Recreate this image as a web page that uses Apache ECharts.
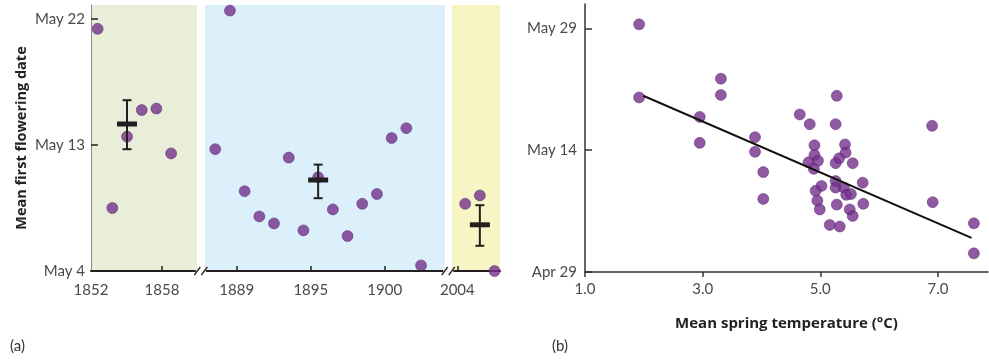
<!DOCTYPE html>
<html><head><meta charset="utf-8">
<script src="https://cdn.jsdelivr.net/npm/echarts@6/dist/echarts.min.js"></script>
<style>html,body{margin:0;padding:0;background:#fff}#c{width:989px;height:362px}</style>
</head><body><div id="c"></div><script>
// ---------- Panel (a): x = plotting slot (one per sampled year), y = days after May 4
const greenX = [0, 1, 2, 3, 4, 5];
const greenY = [17.3, 4.5, 9.6, 11.5, 11.6, 8.4];
const blueX = [8, 9, 10, 11, 12, 13, 14, 15, 16, 17, 18, 19, 20, 21, 22];
const blueY = [8.7, 18.6, 5.7, 3.9, 3.4, 8.1, 2.9, 6.7, 4.4, 2.5, 4.8, 5.5, 9.5, 10.2, 0.4];
const yellowX = [25, 26, 27];
const yellowY = [4.8, 5.4, 0.0];
// [x, mean, low, high]
const meansA = [[2, 10.5, 8.7, 12.2], [15, 6.5, 5.2, 7.6], [26, 3.3, 1.8, 4.7]];
const eraSpans = [[-0.45, 6.76], [7.31, 23.63], [24.11, 27.37]];
const breaksA = [7.02, 23.85];
const xTicksA = [-0.45, 4.38, 9.46, 14.5, 19.53, 24.47];
const xTickLabelsA = ['1852', '1858', '1889', '1895', '1900', '2004'];
const yTicksA = [0, 9, 18];
const yTickLabelsA = ['May 4', 'May 13', 'May 22'];

// ---------- Panel (b): x = mean spring temperature (°C), y = days after Apr 29
const tempB = [1.92, 1.92, 2.95, 2.95, 3.31, 3.31, 3.89, 3.89, 4.03, 4.03, 4.65, 4.82, 4.90, 4.90, 4.80,
  4.96, 4.89, 5.02, 4.92, 4.95, 4.99, 5.28, 5.26, 5.42, 5.43, 5.32, 5.26, 5.55, 5.26, 5.26, 5.40, 5.44,
  5.52, 5.72, 5.28, 5.50, 5.55, 5.73, 5.16, 5.33, 6.90, 6.91, 7.61, 7.61];
const dateB = [30.5, 21.5, 19.1, 15.9, 23.8, 21.8, 16.6, 14.8, 12.3, 9.0, 19.4, 18.2, 15.6, 14.4, 13.5,
  13.7, 12.7, 10.6, 10.0, 8.8, 7.7, 21.7, 18.2, 15.7, 14.7, 14.0, 13.4, 13.4, 11.2, 10.4, 10.4, 9.5,
  9.6, 11.0, 8.3, 7.7, 6.9, 8.4, 5.8, 5.6, 18.0, 8.6, 6.0, 2.3];
const fitB = [[1.99, 21.7], [7.57, 4.2]];
const xTicksB = [1, 3, 5, 7];
const xTickLabelsB = ['1.0', '3.0', '5.0', '7.0'];
const yTicksB = [0, 15, 30];
const yTickLabelsB = ['Apr 29', 'May 14', 'May 29'];

const FONT = 'Lato';
const TFONT = 'Open Sans';
const DOT = '#74318c';
const INK = '#231f20';
const LBL = '#4a4a4a';
const eraColors = ['#e8eed7', '#dbf0fb', '#f7f5c4'];

const zip = (a, b) => a.map((v, i) => [v, b[i]]);
const lab = (ticks, labels) => v => { const i = ticks.findIndex(t => Math.abs(t - v) < 1e-6); return i >= 0 ? labels[i] : ''; };

const dotStyle = { color: DOT, borderColor: '#57226e', borderWidth: 0.6 };

const chart = echarts.init(document.getElementById('c'));
chart.setOption({
  animation: false,
  textStyle: { fontFamily: FONT },
  grid: [
    { left: 91, top: 5, width: 409, height: 266 },
    { left: 585, top: 4, width: 403, height: 268 }
  ],
  xAxis: [
    {
      gridIndex: 0, type: 'value', min: -0.45, max: 27.37, z: 10,
      splitLine: { show: false },
      axisLine: { show: true, onZero: false, lineStyle: { color: INK, width: 2 } },
      axisTick: { show: true, inside: true, length: 5, lineStyle: { color: INK, width: 1.5 }, customValues: xTicksA.slice(1) },
      axisLabel: { color: LBL, fontSize: 15, fontFamily: FONT, margin: 12, customValues: xTicksA, formatter: lab(xTicksA, xTickLabelsA) }
    },
    {
      gridIndex: 1, type: 'value', min: 1, max: 7.85, z: 10,
      splitLine: { show: false },
      axisLine: { show: true, onZero: false, lineStyle: { color: '#333', width: 1.5 } },
      axisTick: { show: true, inside: false, length: 5, lineStyle: { color: '#333', width: 1.5 }, customValues: xTicksB },
      axisLabel: { color: LBL, fontSize: 15, fontFamily: FONT, margin: 10, customValues: xTicksB, formatter: lab(xTicksB, xTickLabelsB) },
      name: 'Mean spring temperature (°C)', nameLocation: 'middle', nameGap: 44,
      nameTextStyle: { color: '#222', fontSize: 15, fontWeight: 'bold', fontFamily: TFONT }
    }
  ],
  yAxis: [
    {
      gridIndex: 0, type: 'value', min: 0, max: 19, z: 10,
      splitLine: { show: false },
      axisLine: { show: true, onZero: false, lineStyle: { color: '#8a8a8a', width: 1 } },
      axisTick: { show: true, inside: true, length: 7, lineStyle: { color: INK, width: 1.5 }, customValues: yTicksA },
      axisLabel: { color: LBL, fontSize: 15, fontFamily: FONT, margin: 6, customValues: yTicksA, formatter: lab(yTicksA, yTickLabelsA) },
      name: 'Mean first flowering date', nameLocation: 'middle', nameGap: 62, nameRotate: 90,
      nameTextStyle: { color: '#222', fontSize: 14.5, fontWeight: 'bold', fontFamily: TFONT }
    },
    {
      gridIndex: 1, type: 'value', min: 0, max: 33, z: 10,
      splitLine: { show: false },
      axisLine: { show: true, onZero: false, lineStyle: { color: '#333', width: 1.5 } },
      axisTick: { show: true, inside: true, length: 7, lineStyle: { color: '#333', width: 1.5 }, customValues: yTicksB },
      axisLabel: { color: LBL, fontSize: 15, fontFamily: FONT, margin: 8, customValues: yTicksB, formatter: lab(yTicksB, yTickLabelsB) }
    }
  ],
  series: [
    {
      type: 'line', xAxisIndex: 0, yAxisIndex: 0, data: [], z: 0, silent: true,
      markArea: {
        silent: true,
        data: eraSpans.map((s, i) => [{ xAxis: s[0], itemStyle: { color: eraColors[i] } }, { xAxis: s[1] }])
      }
    },
    { type: 'scatter', xAxisIndex: 0, yAxisIndex: 0, symbolSize: 11, clip: false, itemStyle: dotStyle, data: zip(greenX, greenY), z: 3 },
    { type: 'scatter', xAxisIndex: 0, yAxisIndex: 0, symbolSize: 11, clip: false, itemStyle: dotStyle, data: zip(blueX, blueY), z: 3 },
    { type: 'scatter', xAxisIndex: 0, yAxisIndex: 0, symbolSize: 11, clip: false, itemStyle: dotStyle, data: zip(yellowX, yellowY), z: 11 },
    {
      type: 'custom', xAxisIndex: 0, yAxisIndex: 0, z: 5, data: meansA,
      renderItem: (params, api) => {
        const x = api.value(0);
        const pm = api.coord([x, api.value(1)]);
        const pl = api.coord([x, api.value(2)]);
        const ph = api.coord([x, api.value(3)]);
        const ls = { stroke: INK, lineWidth: 2 };
        return {
          type: 'group', children: [
            { type: 'line', shape: { x1: pl[0], y1: pl[1], x2: ph[0], y2: ph[1] }, style: ls },
            { type: 'line', shape: { x1: ph[0] - 4.5, y1: ph[1], x2: ph[0] + 4.5, y2: ph[1] }, style: ls },
            { type: 'line', shape: { x1: pl[0] - 4.5, y1: pl[1], x2: pl[0] + 4.5, y2: pl[1] }, style: ls },
            { type: 'rect', shape: { x: pm[0] - 10, y: pm[1] - 2.5, width: 20, height: 5 }, style: { fill: INK } }
          ]
        };
      }
    },
    { type: 'scatter', xAxisIndex: 1, yAxisIndex: 1, symbolSize: 11, itemStyle: dotStyle, data: zip(tempB, dateB), z: 3 },
    {
      type: 'line', xAxisIndex: 1, yAxisIndex: 1, data: fitB, symbol: 'none', z: 4,
      lineStyle: { color: '#111', width: 2 }
    }
  ]
});

// axis-break marks and panel letters
const y0 = chart.convertToPixel({ yAxisIndex: 0 }, 0);
const g = [];
breaksA.forEach(b => {
  const px = chart.convertToPixel({ xAxisIndex: 0 }, b);
  g.push({ type: 'rect', z: 100, shape: { x: px - 5, y: y0 - 2, width: 10, height: 4 }, style: { fill: '#fff' } });
  [-3.5, 3.5].forEach(d => g.push({ type: 'line', z: 101, shape: { x1: px + d - 3, y1: y0 + 4, x2: px + d + 3, y2: y0 - 4 }, style: { stroke: INK, lineWidth: 1.3 } }));
});
g.push({ type: 'text', left: 10, top: 339, style: { text: '(a)', fontFamily: FONT, fontSize: 15, fill: '#333' } });
g.push({ type: 'text', left: 552, top: 339, style: { text: '(b)', fontFamily: FONT, fontSize: 15, fill: '#333' } });
chart.setOption({ graphic: g });
</script></body></html>
